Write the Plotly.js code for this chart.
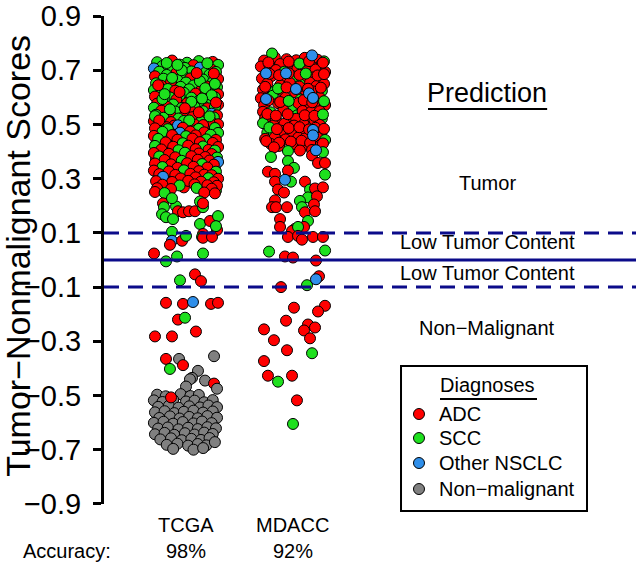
<!DOCTYPE html>
<html><head><meta charset="utf-8">
<script src="https://cdn.plot.ly/plotly-3.0.1.min.js"></script>
<style>html,body{margin:0;padding:0;background:#fff}#chart{width:636px;height:565px}</style>
</head><body><div id="chart"></div>
<script>
// ---------- data ----------
const groups = ["TCGA", "MDACC"];
const accuracy = ["98%", "92%"];
const diagnosisCodes = ["A", "S", "O", "N"];
const diagnosisNames = ["ADC", "SCC", "Other NSCLC", "Non\u2212malignant"];
const yTicks = [-0.9, -0.7, -0.5, -0.3, -0.1, 0.1, 0.3, 0.5, 0.7, 0.9];
const thresholds = [-0.1, 0.1];
const cutoff = 0;

// TCGA: horizontal jitter (category units), score, diagnosis code (A=ADC, S=SCC, O=other NSCLC, N=non-malignant)
const tcgaJitter = [
 -0.27,-0.13,0.01,0.12,0.25,
 -0.22,-0.06,0.07,0.19,0.30,
 -0.30,-0.16,-0.01,0.13,0.24,
 -0.25,-0.09,0.05,0.18,0.28,
 -0.29,-0.18,-0.03,0.10,0.22,
 -0.21,-0.08,0.04,0.16,0.30,
 -0.28,-0.14,0.00,0.11,0.25,
 -0.23,-0.05,0.07,0.20,0.29,
 -0.30,-0.17,-0.10,0.03,0.14,0.26,
 -0.24,-0.02,0.09,0.21,0.30,
 -0.29,-0.15,-0.06,0.05,0.17,0.27,
 -0.20,-0.09,0.12,0.23,
 -0.27,-0.12,0.01,0.15,0.30,
 -0.30,-0.18,-0.04,0.08,0.20,0.27,
 -0.23,-0.10,0.04,0.16,0.24,
 -0.28,-0.15,-0.01,0.11,0.29,
 -0.21,-0.07,0.06,0.19,0.26,
 -0.30,-0.14,-0.02,0.14,0.24,
 -0.25,-0.11,-0.075,0.08,0.20,0.30,
 -0.18,0.20,-0.04,0.26,-0.13,0.13,-0.26,0.18,-0.06,
 0.24,-0.22,0.05,0.28,-0.15,0.12,-0.29,0.03,0.22,
 -0.18,0.09,0.26,-0.16,0.13,-0.28,0.07,-0.18,0.18,
 -0.28,0.06,-0.08,0.27,-0.19,0.11,-0.12,0.19,-0.02,
 0.28,-0.08,0.10,0.27,-0.20,0.15,-0.01,0.22,-0.25,
 0.16,-0.10,0.21,-0.05,0.28,-0.24,0.16,0.00,-0.26,
 -0.29,-0.17,-0.03,0.12,0.27,
 -0.22,-0.056,0.04,0.17,0.30,
 -0.30,-0.13,0.00,0.09,0.23,
 -0.26,-0.08,0.06,0.19,0.28,
 -0.19,-0.03,0.13,0.25,
 -0.29,-0.12,0.02,0.16,0.30,
 -0.23,-0.07,0.09,0.21,0.27,
 -0.30,-0.16,-0.01,0.12,0.24,
 -0.25,-0.10,0.05,0.18,0.29,
 -0.20,-0.04,0.11,0.22,0.30,
 -0.29,-0.14,0.01,0.15,0.26,
 -0.22,-0.08,0.07,0.20,
 -0.30,-0.16,-0.02,0.12,0.28,
 -0.25,-0.10,0.04,0.17,0.24,
 -0.215,-0.05,0.09,0.21,0.30,
 -0.28,-0.13,0.02,0.14,0.26,
 -0.22,-0.06,0.08,0.20,0.29,
 -0.27,-0.14,0.10,0.24,
 -0.29,-0.20,0.17,0.27,
 -0.215,-0.093,-0.075,-0.028,0.028,0.084,0.159,0.131,0.159,-0.206,
 -0.224,-0.187,-0.121,0.131,0.224,0.299,0.290,0.159,0.280,-0.131,-0.131,
 -0.131,-0.150,-0.037,0.000,0.150,0.159,0.243,-0.299,-0.187,-0.084,0.159,
 0.084,0.140,-0.056,-0.187,-0.028,0.065,0.234,0.299,-0.075,-0.009,
 -0.290,-0.131,0.093,-0.187,-0.065,0.262,-0.028,-0.150,0.112,0.056,0.037,0.178,0.262,0.290,0.000,
 -0.27,-0.19,-0.05,0.04,0.12,
 -0.30,-0.22,-0.12,0.00,0.08,0.17,0.25,
 -0.26,-0.16,-0.07,0.03,0.13,0.21,0.29,
 -0.29,-0.20,-0.11,-0.02,0.07,0.16,0.25,
 -0.25,-0.15,-0.06,0.03,0.11,0.20,0.29,
 -0.30,-0.21,-0.12,-0.03,0.07,0.15,0.24,
 -0.26,-0.17,-0.07,0.02,0.11,0.20,0.28,
 -0.29,-0.20,-0.11,-0.01,0.08,0.17,0.25,
 -0.24,-0.14,-0.04,0.05,0.14,0.22,
 -0.18,-0.08,0.02,0.11,0.19,0.27,
 -0.12,0.07,0.16,
 -0.140
];
const tcgaScore = [
 0.730,0.736,0.728,0.734,0.731,
 0.716,0.721,0.719,0.714,0.720,
 0.707,0.703,0.709,0.710,0.702,
 0.695,0.690,0.696,0.691,0.694,
 0.678,0.683,0.681,0.677,0.684,
 0.669,0.664,0.670,0.666,0.668,
 0.652,0.657,0.655,0.651,0.656,
 0.643,0.639,0.644,0.640,0.638,
 0.627,0.631,0.625,0.630,0.626,0.629,
 0.613,0.617,0.614,0.618,0.612,
 0.603,0.600,0.605,0.599,0.604,0.601,
 0.588,0.592,0.587,0.591,
 0.577,0.574,0.579,0.575,0.573,
 0.562,0.566,0.561,0.565,0.560,0.564,
 0.551,0.548,0.553,0.549,0.540,
 0.536,0.539,0.535,0.538,0.534,
 0.525,0.522,0.527,0.523,0.526,
 0.512,0.509,0.513,0.510,0.508,
 0.499,0.496,0.497,0.500,0.497,0.501,
 0.727,0.726,0.700,0.688,0.672,0.660,0.645,0.634,0.620,
 0.608,0.594,0.584,0.581,0.556,0.545,0.531,0.515,0.505,
 0.490,0.478,0.465,0.452,0.440,0.428,0.415,0.400,0.388,
 0.372,0.362,0.348,0.338,0.320,0.310,0.296,0.283,0.268,
 0.256,0.720,0.690,0.650,0.612,0.596,0.560,0.530,0.515,
 0.498,0.462,0.426,0.390,0.372,0.345,0.336,0.322,0.300,
 0.486,0.483,0.488,0.484,0.487,
 0.473,0.470,0.474,0.471,0.469,
 0.458,0.461,0.457,0.460,0.462,
 0.447,0.444,0.448,0.445,0.443,
 0.434,0.431,0.435,0.432,
 0.421,0.418,0.422,0.419,0.417,
 0.408,0.405,0.409,0.406,0.404,
 0.395,0.392,0.396,0.393,0.391,
 0.382,0.379,0.383,0.380,0.378,
 0.369,0.366,0.370,0.367,0.362,
 0.356,0.353,0.357,0.354,0.352,
 0.343,0.340,0.344,0.341,
 0.330,0.327,0.331,0.328,0.326,
 0.317,0.314,0.318,0.315,0.313,
 0.307,0.301,0.305,0.302,0.300,
 0.291,0.288,0.292,0.289,0.287,
 0.278,0.275,0.279,0.276,0.274,
 0.265,0.262,0.266,0.263,
 0.251,0.247,0.249,0.246,
 0.209,0.198,0.180,0.176,0.180,0.180,0.195,0.216,0.209,0.195,
 0.169,0.158,0.151,0.133,0.144,0.162,0.111,0.096,0.125,0.104,0.228,
 0.071,0.056,0.071,0.089,0.085,0.082,0.085,0.024,-0.005,0.013,0.024,
 -0.053,-0.078,-0.075,-0.158,-0.162,-0.155,-0.162,-0.158,-0.220,-0.213,
 -0.282,-0.282,-0.264,-0.365,-0.365,-0.355,-0.388,-0.402,-0.409,-0.435,-0.440,-0.445,-0.456,-0.475,-0.467,
 -0.497,-0.503,-0.495,-0.502,-0.498,
 -0.518,-0.524,-0.516,-0.522,-0.519,-0.525,-0.517,
 -0.542,-0.538,-0.545,-0.540,-0.544,-0.537,-0.543,
 -0.562,-0.558,-0.565,-0.560,-0.556,-0.563,-0.559,
 -0.583,-0.577,-0.585,-0.579,-0.584,-0.576,-0.582,
 -0.601,-0.597,-0.604,-0.598,-0.603,-0.596,-0.602,
 -0.622,-0.618,-0.625,-0.619,-0.624,-0.617,-0.621,
 -0.643,-0.638,-0.645,-0.639,-0.644,-0.637,-0.642,
 -0.662,-0.658,-0.665,-0.660,-0.664,-0.657,
 -0.682,-0.678,-0.685,-0.679,-0.684,-0.672,
 -0.697,-0.700,-0.694,
 -0.507
];
const tcgaDiagnosis = (
 "SASSA" + "SSASS" + "OSSOA" + "SASSS" + "ASSAS" + "SSASA" + "SASSS" + "ASSAS" +
 "SSASAS" + "SSASA" + "ASSSAS" + "SASS" + "ASASA" + "SASSAS" + "ASASO" + "SAASA" +
 "SSAAS" + "AASSA" + "SAOASA" +
 "SSSASSASA" + "SSSASASSA" + "ASASAASAS" + "AASAAASAA" + "SSASSSASA" + "AASSASAAA" +
 "ASASS" + "SOAAS" + "AASAS" + "SAASA" + "ASAA" + "SAASA" + "ASAAS" + "AASAA" +
 "SAAAS" + "ASAAO" + "AAASA" + "SAAA" + "AASAS" + "AAAAA" + "OAASA" + "AAAAA" +
 "ASAAA" + "AASA" + "ASAA" +
 "ASAAAASSAS" + "SSSSASAASSS" + "OAASSAAASSS" + "AASAAOAAAS" + "AAAANNASNNNNANN" +
 "NNNNN" + "NNNNNNN" + "NNNNNNN" + "NNNNNNN" + "NNNNNNN" + "NNNNNNN" + "NNNNNNN" + "NNNNNNN" +
 "NNNNNN" + "NNNNNN" + "NNN" + "A"
).split("");

// MDACC
const mdaccJitter = [
 -0.27,-0.17,-0.06,0.03,0.11,0.23,
 -0.30,-0.22,-0.12,-0.02,0.08,0.17,0.27,
 -0.16,-0.08,0.04,0.13,0.21,0.30,
 -0.29,-0.20,-0.07,0.01,0.10,0.19,0.25,
 -0.24,-0.12,-0.03,0.07,0.16,0.22,0.29,
 -0.28,-0.18,-0.11,0.02,0.11,0.19,0.27,
 -0.30,-0.19,-0.07,0.07,0.14,0.25,
 -0.27,-0.14,0.00,0.05,0.13,0.22,0.30,
 -0.28,-0.21,-0.09,0.04,0.09,0.17,0.25,
 -0.26,-0.16,-0.04,0.03,0.13,0.20,0.27,
 -0.28,-0.18,-0.08,0.01,0.10,0.25,
 -0.24,-0.18,-0.11,-0.01,0.08,0.27,
 -0.26,-0.17,-0.07,0.05,0.11,0.23,0.30,
 -0.21,-0.13,0.01,0.09,0.26,
 -0.196,0.290,
 -0.23,-0.04,0.06,0.15,0.28,
 -0.22,-0.13,-0.04,0.06,0.12,0.23,0.29,
 -0.26,-0.14,-0.06,0.06,0.14,0.26,
 -0.23,-0.12,-0.04,0.10,0.18,0.29,
 -0.24,-0.16,-0.05,0.11,0.20,0.28,
 -0.22,-0.15,-0.04,0.06,0.15,0.21,0.29,
 -0.25,-0.13,-0.02,0.08,0.16,0.28,
 -0.178,-0.047,0.280,0.065,0.178,0.178,0.234,0.299,-0.206,-0.047,
 0.009,-0.047,-0.234,-0.168,0.299,-0.168,-0.019,0.112,-0.140,-0.084,
 0.159,0.206,0.280,0.140,0.224,-0.168,0.065,-0.196,-0.159,-0.056,
 0.196,0.084,0.112,0.206,-0.121,0.140,-0.121,0.019,0.103,-0.009,0.047,
 -0.047,0.047,0.084,0.187,0.280,-0.224,0.300,-0.075,0.000,0.215,0.243,0.131,-0.112,
 0.009,0.299,0.234,-0.065,0.140,0.206,0.103,-0.271,0.159,-0.178,-0.056,0.178,
 -0.271,-0.234,-0.009,-0.140,0.037,0.000,
 -0.252,-0.065,0.178,0.028,0.150,0.187,-0.252,0.187,0.187,0.215,-0.075,0.215
];
const mdaccScore = [
 0.736,0.748,0.741,0.737,0.746,0.739,
 0.714,0.719,0.723,0.713,0.721,0.716,0.724,
 0.701,0.695,0.704,0.697,0.703,0.694,
 0.670,0.679,0.672,0.677,0.667,0.674,0.669,
 0.651,0.645,0.654,0.647,0.655,0.642,0.650,
 0.629,0.620,0.627,0.619,0.628,0.622,0.624,
 0.597,0.606,0.599,0.592,0.603,0.599,
 0.571,0.579,0.567,0.579,0.570,0.576,0.572,
 0.547,0.545,0.553,0.534,0.550,0.547,0.549,
 0.524,0.519,0.529,0.521,0.526,0.517,0.522,
 0.505,0.497,0.503,0.496,0.501,0.499,
 0.470,0.464,0.477,0.473,0.480,0.475,
 0.447,0.453,0.445,0.452,0.448,0.452,0.443,
 0.429,0.421,0.428,0.420,0.425,
 0.762,0.733,
 0.729,0.732,0.725,0.734,0.728,
 0.687,0.682,0.689,0.683,0.688,0.681,0.686,
 0.639,0.633,0.637,0.640,0.632,0.636,
 0.589,0.583,0.587,0.590,0.582,0.586,
 0.539,0.533,0.538,0.534,0.532,0.537,
 0.489,0.483,0.487,0.490,0.482,0.488,0.484,
 0.439,0.433,0.437,0.440,0.432,0.430,
 0.416,0.402,0.398,0.404,0.406,0.386,0.358,0.358,0.380,0.365,
 0.340,0.330,0.326,0.318,0.315,0.289,0.289,0.289,0.260,0.249,
 0.260,0.264,0.268,0.231,0.235,0.220,0.218,0.195,0.195,0.195,
 0.205,0.195,0.176,0.180,0.151,0.144,0.122,0.115,0.122,0.107,0.122,
 0.085,0.089,0.075,0.085,0.085,0.031,0.035,0.013,0.009,-0.002,-0.060,-0.093,-0.100,
 -0.176,-0.169,-0.190,-0.224,-0.238,-0.249,-0.260,-0.256,-0.289,-0.296,-0.333,-0.344,
 -0.373,-0.427,-0.427,-0.449,-0.518,-0.605,
 0.689,0.689,0.755,0.631,0.615,0.598,0.594,0.480,0.460,0.405,0.296,-0.071
];
const mdaccDiagnosis = (
 "AAAAAA" + "AAAASAA" + "ASAAAA" + "AAASAAA" + "AAASAAA" + "ASAAAAS" + "ASASAA" +
 "AASAAAA" + "ASASAAA" + "AAAAAAS" + "SAAAAA" + "SSAAAA" + "AAAAAAS" + "AAAAA" + "SS" +
 "AASAA" + "AAAASAA" + "ASAAAA" + "AASAAS" + "AAAAAS" + "SAAAAAA" + "AAAAAA" +
 "ASSAAAAASS" + "SAAASASAAA" + "SAASAASAAA" + "ASAAASAAAAS" + "AAAAASSAAAASA" +
 "AAAAAAAAAAAS" + "AAASAS" + "OOOOOOOOOOOO"
).split("");

// ---------- styling ----------
const colorMap = {A: "#FF0000", S: "#1EE01E", O: "#2F8FEA", N: "#808080"};
const FONT = "Liberation Sans, Arial, sans-serif";

function check(name, a, b, c) {
  if (a.length !== b.length || a.length !== c.length) {
    document.body.insertAdjacentHTML("beforeend",
      "<p style='position:absolute;top:0;left:200px;color:red'>" + name + " " + a.length + "/" + b.length + "/" + c.length + "</p>");
  }
}
check("tcga", tcgaJitter, tcgaScore, tcgaDiagnosis);
check("mdacc", mdaccJitter, mdaccScore, mdaccDiagnosis);

function stripTrace(groupIndex, jitter, score, dx) {
  const pos = groupIndex + 1;
  return {
    type: "scatter", mode: "markers",
    x: jitter.map(j => pos + j), y: score,
    marker: {size: 11, color: dx.map(c => colorMap[c]), line: {color: "#000", width: 1}},
    showlegend: false, hoverinfo: "skip", cliponaxis: false
  };
}

const traces = [
  stripTrace(0, tcgaJitter, tcgaScore, tcgaDiagnosis),
  stripTrace(1, mdaccJitter, mdaccScore, mdaccDiagnosis)
];

const navy = "#0B0B8A";
const shapes = [
  {type: "line", xref: "paper", x0: 0, x1: 1, yref: "y", y0: cutoff, y1: cutoff, line: {color: navy, width: 3}},
  ...thresholds.map(t => ({type: "line", xref: "paper", x0: 0, x1: 1, yref: "y", y0: t, y1: t,
    line: {color: navy, width: 3, dash: "15px,9px"}})),
  {type: "line", xref: "paper", yref: "paper", x0: 0.609, x1: 0.833, y0: 0.8094, y1: 0.8094, line: {color: "#000", width: 2}},
  {type: "rect", xref: "paper", yref: "paper", x0: 0.5583, x1: 0.9079, y0: -0.0143, y1: 0.2828,
    line: {color: "#000", width: 2}, fillcolor: "rgba(255,255,255,0)"},
  {type: "line", xref: "paper", yref: "paper", x0: 0.6316, x1: 0.8139, y0: 0.2152, y1: 0.2152, line: {color: "#000", width: 2}}
];

const txt = (text, x, y, size, extra) => Object.assign({
  text, x, y, xref: "paper", yref: "paper", showarrow: false, xanchor: "center", yanchor: "middle",
  font: {family: FONT, size: size, color: "#000"}
}, extra || {});

const annotations = [
  txt("Tumor\u2212Nonmalignant Scores", -0.162, 0.5082, 34, {textangle: -90}),
  txt("Prediction", 0.72, 0.8422, 27),
  txt("Tumor", 0.72, 0.6578, 20),
  txt("Low Tumor Content", 0.72, 0.5369, 20),
  txt("Low Tumor Content", 0.72, 0.4734, 20),
  txt("Non\u2212Malignant", 0.72, 0.3607, 20),
  txt("Accuracy:", -0.0695, -0.0963, 20),
  txt("Diagnoses", 0.7218, 0.2439, 20)
];
groups.forEach((g, i) => {
  annotations.push(txt(g, i + 1, -0.043, 20, {xref: "x"}));
  annotations.push(txt(accuracy[i], i + 1, -0.0963, 20, {xref: "x"}));
});

const legendItemY = [0.1844, 0.1352, 0.0840, 0.0307];
diagnosisCodes.forEach((c, i) => {
  shapes.push({type: "circle", xref: "paper", yref: "paper", xsizemode: "pixel", ysizemode: "pixel",
    xanchor: 0.5921, yanchor: legendItemY[i], x0: -5.5, x1: 5.5, y0: -5.5, y1: 5.5,
    fillcolor: colorMap[c], line: {color: "#000", width: 1}});
  annotations.push(txt(diagnosisNames[i], 0.6259, legendItemY[i], 20, {xanchor: "left"}));
});

const layout = {
  width: 636, height: 565,
  margin: {l: 104, r: 0, t: 16, b: 61},
  paper_bgcolor: "#fff", plot_bgcolor: "#fff",
  font: {family: FONT, color: "#000"},
  showlegend: false,
  xaxis: {range: [0.2336, 5.206], showgrid: false, zeroline: false, showline: false,
    showticklabels: false, ticks: "", fixedrange: true},
  yaxis: {range: [-0.9004, 0.9004], tickvals: yTicks, tickformat: ".1f", ticks: "outside",
    ticklen: 8, tickwidth: 3, tickcolor: "#000", showline: true, linewidth: 3, linecolor: "#000",
    showgrid: false, zeroline: false, tickfont: {family: FONT, size: 29, color: "#000"},
    ticklabelstandoff: 6, ticklabeloverflow: "allow", fixedrange: true},
  shapes, annotations
};

Plotly.newPlot("chart", traces, layout, {displayModeBar: false, staticPlot: true});
</script>
</body></html>
